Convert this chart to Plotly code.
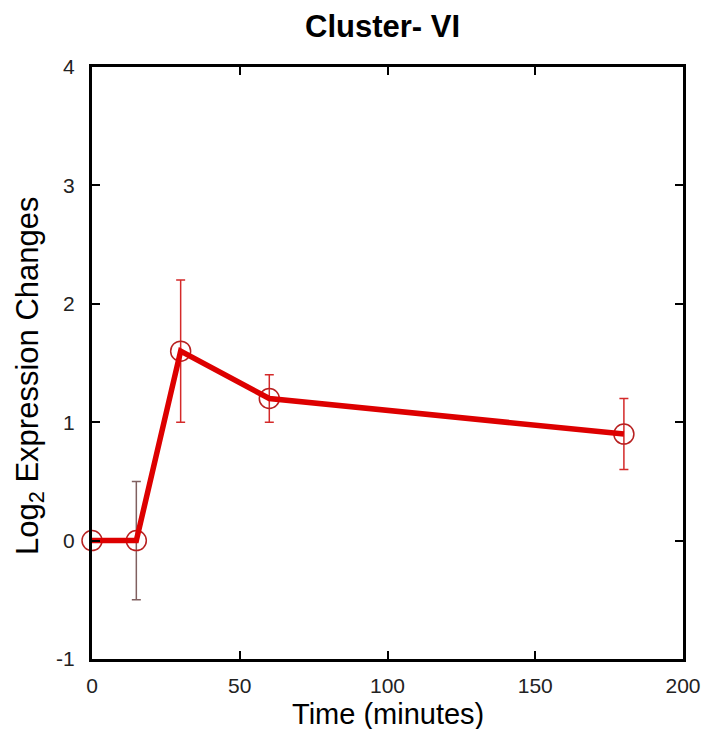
import plotly.graph_objects as go

time_min = [0, 15, 30, 60, 180]
log2_change = [0.0, 0.0, 1.6, 1.2, 0.9]
err = [0.0, 0.5, 0.6, 0.2, 0.3]
err_colors = ["#d42a2a", "#806060", "#d42a2a", "#d42a2a", "#d42a2a"]

FONT = "Liberation Sans, Arial, sans-serif"

fig = go.Figure()
for i in range(len(time_min)):
    fig.add_trace(go.Scatter(
        x=[time_min[i]], y=[log2_change[i]], mode="markers",
        marker=dict(symbol="circle-open", size=20, color="#b82020", line=dict(width=1.5)),
        error_y=dict(type="data", array=[err[i]], visible=True, color=err_colors[i],
                     thickness=1.5, width=4.5),
        showlegend=False, hoverinfo="skip", cliponaxis=False))
fig.add_trace(go.Scatter(
    x=time_min, y=log2_change, mode="lines",
    line=dict(color="#dd0000", width=5.5),
    showlegend=False))

axis_common = dict(
    showline=True, linecolor="black", linewidth=3, mirror="ticks",
    ticks="inside", ticklen=8, tickwidth=1.5, tickcolor="black",
    showgrid=False, zeroline=False, automargin=False,
    tickfont=dict(family=FONT, size=21, color="#222"),
)
fig.update_layout(
    width=705, height=729,
    paper_bgcolor="white", plot_bgcolor="white",
    margin=dict(l=92, r=22, t=67, b=70),
    xaxis=dict(range=[0, 200], tickvals=[0, 50, 100, 150, 200],
               ticktext=["0", "50", "100", "150", "200"],
               ticklabelstandoff=6, **axis_common),
    yaxis=dict(range=[-1, 4], tickvals=[-1, 0, 1, 2, 3, 4],
               ticktext=["-1", "0", "1", "2", "3", "4"],
               ticklabelstandoff=10, **axis_common),
    annotations=[
        dict(text="<b>Cluster- VI</b>", xref="paper", yref="paper",
             x=0.492, y=1.0676, xanchor="center", yanchor="middle", showarrow=False,
             font=dict(family=FONT, size=31, color="black")),
        dict(text="Time (minutes)", xref="paper", yref="paper",
             x=0.5, y=-0.0929, xanchor="center", yanchor="middle", showarrow=False,
             font=dict(family=FONT, size=29, color="black")),
        dict(text="Log<sub>2</sub> Expression Changes", xref="paper", yref="paper",
             x=-0.105, y=0.478, xanchor="center", yanchor="middle", showarrow=False,
             textangle=-90, font=dict(family=FONT, size=31, color="black")),
    ],
)
fig.write_html("out.html")
